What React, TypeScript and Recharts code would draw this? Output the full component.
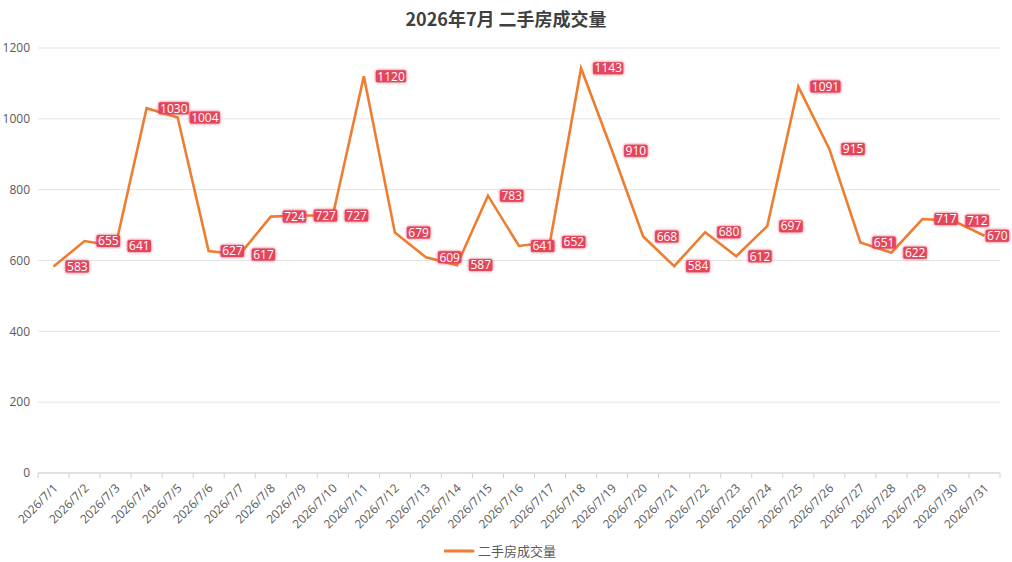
import { LineChart, Line, XAxis, YAxis, CartesianGrid, Legend } from "recharts";

const days = Array.from({ length: 31 }, (_, i) => i + 1);
const dateLabels = days.map(d => `2026/7/${d}`);
const volumes = [
  583, 655, 641, 1030, 1004, 627, 617, 724, 727, 727, 1120, 679, 609, 587, 783, 641,
  652, 1143, 910, 668, 584, 680, 612, 697, 1091, 915, 651, 622, 717, 712, 670,
];
const yTicks = [0, 200, 400, 600, 800, 1000, 1200];
const boundaries = [...days.map(d => d - 0.5), 31.5];

const chartData = days.map((d, i) => ({ day: d, volume: volumes[i] }));

const FONT = "'Open Sans', 'Noto Sans CJK SC', sans-serif";

const ValueLabel = (props: any) => {
  const { x, y, value } = props;
  if (x == null || y == null) return null;
  const text = String(value);
  const w = text.length * 6.8 + 3;
  // keep the last label inside the picture
  const left = Math.min(x + 12, 1009 - w);
  return (
    <g>
      <rect x={left} y={y - 6} width={w} height={12} rx={1.5} fill="#e2445c" filter="url(#labelGlow)" />
      <text x={left + 1.5} y={y + 4.3} fill="#ffffff" fontSize={12} fontFamily={FONT}>
        {text}
      </text>
    </g>
  );
};

const DateTick = (props: any) => {
  const { x, y, payload } = props;
  return (
    <text
      x={x + 5}
      y={y + 7}
      textAnchor="end"
      fontSize={12}
      fill="#595959"
      fontFamily={FONT}
      transform={`rotate(-45, ${x + 5}, ${y + 7})`}
    >
      {dateLabels[payload.value - 1]}
    </text>
  );
};

const LegendContent = () => (
  <div
    style={{
      display: "flex",
      justifyContent: "center",
      alignItems: "center",
      marginTop: 4,
      fontFamily: FONT,
      fontSize: 13,
      color: "#595959",
    }}
  >
    <svg width={32} height={10} style={{ marginRight: 2 }}>
      <line x1={1} y1={5} x2={29} y2={5} stroke="#ED7D31" strokeWidth={3} strokeLinecap="round" />
    </svg>
    <span>二手房成交量</span>
  </div>
);

export default function App() {
  return (
    <div style={{ position: "absolute", left: 0, top: 0, width: 1012, height: 562, background: "#fff" }}>
      <svg width={0} height={0} style={{ position: "absolute" }}>
        <defs>
          <filter id="labelGlow" x="-30%" y="-60%" width="160%" height="220%">
            <feGaussianBlur in="SourceGraphic" stdDeviation="1.6" result="blur" />
            <feMerge>
              <feMergeNode in="blur" />
              <feMergeNode in="SourceGraphic" />
            </feMerge>
          </filter>
        </defs>
      </svg>
      <div
        style={{
          position: "absolute",
          top: 5,
          width: 1012,
          textAlign: "center",
          fontFamily: "'Noto Sans CJK SC', sans-serif",
          fontWeight: 700,
          fontSize: 18,
          color: "#404040",
        }}
      >
        2026年7月 二手房成交量
      </div>
      <LineChart width={1012} height={562} data={chartData} margin={{ top: 48, right: 12, left: 0, bottom: 0 }}>
        <CartesianGrid horizontal vertical={false} stroke="#e3e3e3" />
        <XAxis
          xAxisId="a_marks"
          dataKey="day"
          type="number"
          domain={[0.5, 31.5]}
          ticks={boundaries}
          interval={0}
          tickFormatter={() => ""}
          tickLine={{ stroke: "#d0d0d0" }}
          axisLine={{ stroke: "#d0d0d0" }}
          tickSize={5}
          height={1}
        />
        <XAxis
          xAxisId="b_labels"
          dataKey="day"
          type="number"
          domain={[0.5, 31.5]}
          ticks={days}
          interval={0}
          tick={<DateTick />}
          tickLine={false}
          axisLine={false}
          height={63}
        />
        <YAxis
          domain={[0, 1200]}
          ticks={yTicks}
          width={38}
          axisLine={false}
          tickLine={false}
          tick={{ fontSize: 12, fill: "#595959", fontFamily: FONT }}
          tickMargin={2}
        />
        <Legend verticalAlign="bottom" height={25} content={<LegendContent />} />
        <Line
          xAxisId="a_marks"
          dataKey="volume"
          type="linear"
          stroke="#ED7D31"
          strokeWidth={2.6}
          dot={false}
          label={<ValueLabel />}
          isAnimationActive={false}
        />
      </LineChart>
    </div>
  );
}
